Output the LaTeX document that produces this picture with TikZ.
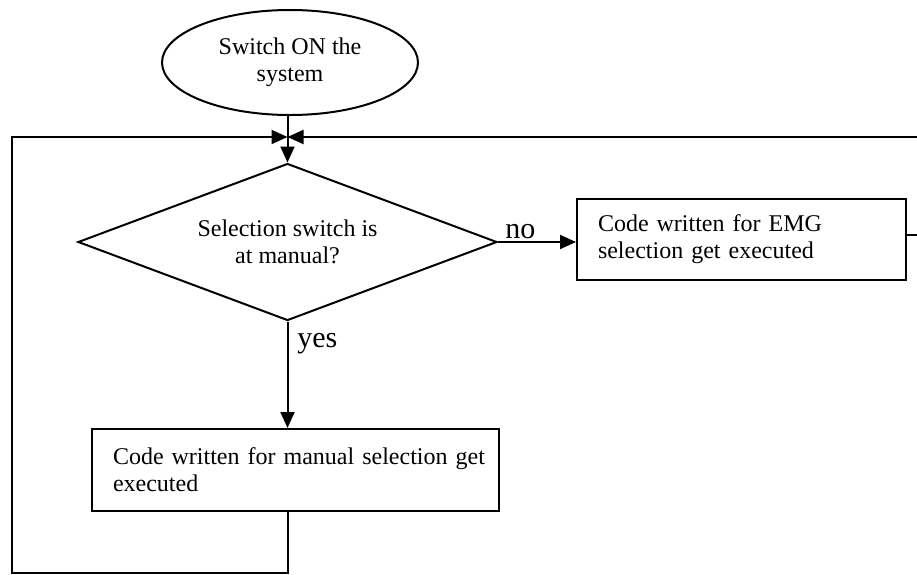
\documentclass[tikz,border=0pt]{standalone}
\usepackage{fontspec}
\setmainfont{Liberation Serif}
\usetikzlibrary{shapes.geometric,arrows.meta}

\tikzset{
  flow/.style={line width=1pt},
  arr/.style={flow,-{Triangle[length=8pt,width=7pt]}},
  body/.style={font=\fontsize{12pt}{13.5pt}\selectfont},
  startnode/.style={ellipse,draw,flow,body,inner sep=0pt,align=center,
    minimum width=128pt,minimum height=52.5pt},
  decision/.style={diamond,draw,flow,body,inner sep=0pt,align=center,
    aspect=2.67,minimum width=209.5pt,minimum height=78.5pt},
  process/.style={rectangle,draw,flow,body,inner xsep=10.5pt,inner ysep=0pt,
    align=left},
  branch/.style={font=\fontsize{15pt}{17pt}\selectfont,inner sep=0pt}
}

\begin{document}
\begin{tikzpicture}[x=0.5pt,y=-0.5pt]
  \useasboundingbox (0,0) rectangle (917,574);

  % shapes
  \node[startnode] (e) at (290,62.5) {Switch ON the\\system};
  \node[decision] (d) at (287.5,242) {Selection switch is\\at manual?};
  \node[process,text width=143.5pt,minimum height=40.5pt] (emg) at (741.5,239.5)
    {\mbox{Code written for EMG}\\\mbox{selection get executed}};
  \node[process,text width=182.5pt,minimum height=41pt] (m) at (295.5,470)
    {\mbox{Code written for manual selection get}\\executed};

  % branch labels
  \node[branch,anchor=base west] (no) at (505,238) {no};
  \node[branch,anchor=base west] (yes) at (297,347) {yes};

  % helper points of the loops
  \coordinate (merge) at (287.5,137);
  \coordinate (bl) at (12,573);
  \coordinate (rc) at (920,137);

  % connectors
  \draw[arr] (e.south -| d.north) -- (d.north);
  \draw[arr] (d.east) -- (emg.west |- d.east);
  \draw[arr] (d.south) -- (d.south |- m.north);
  \draw[arr] (d.south |- m.south) |- (bl) |- (merge);
  \draw[arr] ([yshift=2.25pt]emg.east) -| (rc) -- (merge);
\end{tikzpicture}
\end{document}
